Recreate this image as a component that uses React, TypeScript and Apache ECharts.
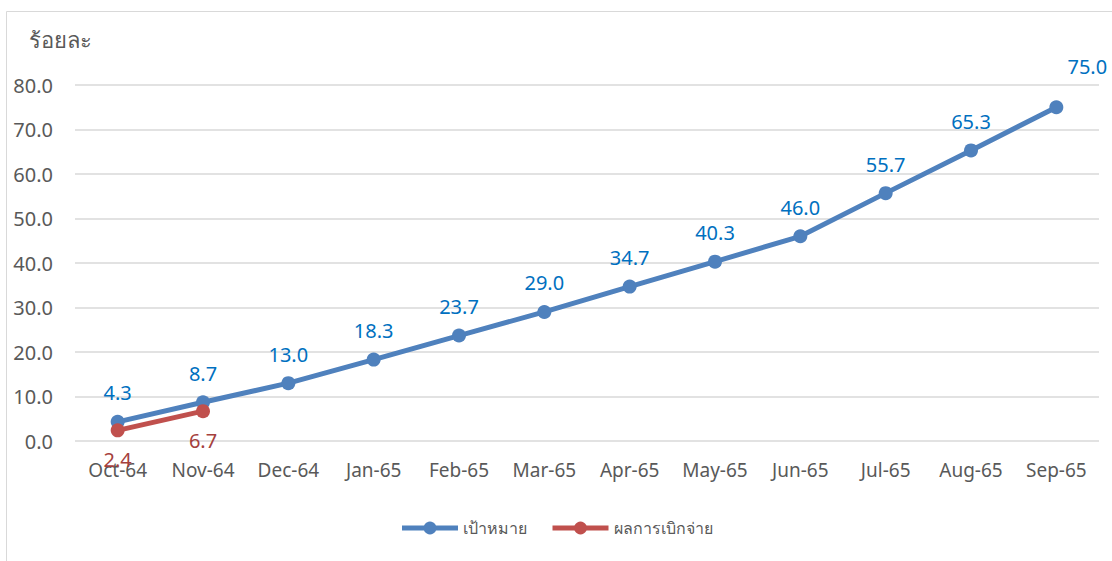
import React, { useEffect, useRef } from "react";
import * as echarts from "echarts";

const categories = ["Oct-64", "Nov-64", "Dec-64", "Jan-65", "Feb-65", "Mar-65", "Apr-65", "May-65", "Jun-65", "Jul-65", "Aug-65", "Sep-65"];
const targetValues = [4.3, 8.7, 13.0, 18.3, 23.7, 29.0, 34.7, 40.3, 46.0, 55.7, 65.3, 75.0];
const actualValues = [2.4, 6.7];
const yTicks = { min: 0, max: 80, interval: 10 };
const targetName = "เป้าหมาย";
const actualName = "ผลการเบิกจ่าย";
const yTitle = "ร้อยละ";

const FONT = "'Noto Sans', sans-serif";

export default function App() {
  const ref = useRef<HTMLDivElement>(null);
  useEffect(() => {
    if (!ref.current) return;
    const chart = echarts.init(ref.current, undefined, { renderer: "svg" });
    chart.setOption({
      animation: false,
      backgroundColor: "#ffffff",
      textStyle: { fontFamily: FONT },
      graphic: [
        {
          type: "rect",
          shape: { x: 6.5, y: 11.5, width: 1200, height: 700 },
          style: { fill: "none", stroke: "#d9d9d9", lineWidth: 1 },
          silent: true,
        },
        {
          type: "text",
          left: 29,
          top: 28,
          style: { text: yTitle, fontSize: 22, fill: "#595959", fontFamily: FONT },
        },
      ],
      grid: { left: 75, right: 13, top: 85, bottom: 120, containLabel: false },
      legend: {
        bottom: 20,
        left: "center",
        itemWidth: 56,
        itemHeight: 16,
        itemGap: 23,
        lineStyle: { width: 5 },
        textStyle: { color: "#595959", fontSize: 16, fontFamily: FONT },
        data: [targetName, actualName],
      },
      xAxis: {
        type: "category",
        data: categories,
        boundaryGap: true,
        axisLine: { show: false },
        axisTick: { show: false },
        axisLabel: { color: "#595959", fontSize: 19, margin: 19, interval: 0, fontFamily: FONT },
      },
      yAxis: {
        type: "value",
        min: yTicks.min,
        max: yTicks.max,
        interval: yTicks.interval,
        axisLine: { show: false },
        axisTick: { show: false },
        splitLine: { lineStyle: { color: "#d9d9d9", width: 1.5 } },
        axisLabel: {
          color: "#595959",
          fontSize: 20,
          margin: 22,
          fontFamily: FONT,
          formatter: (v: number) => v.toFixed(1),
        },
      },
      series: [
        {
          name: targetName,
          type: "line",
          data: targetValues.map((v, i) =>
            i === targetValues.length - 1
              ? { value: v, label: { offset: [31, -12] } }
              : v
          ),
          color: "#4f81bd",
          lineStyle: { width: 5, color: "#4f81bd" },
          symbol: "circle",
          symbolSize: 14,
          itemStyle: { color: "#4f81bd" },
          label: {
            show: true,
            position: "top",
            distance: 12,
            color: "#0070c0",
            fontSize: 20,
            fontFamily: FONT,
            formatter: (p: any) => Number(p.value).toFixed(1),
          },
          z: 2,
        },
        {
          name: actualName,
          type: "line",
          data: actualValues,
          color: "#c0504d",
          lineStyle: { width: 5, color: "#c0504d" },
          symbol: "circle",
          symbolSize: 14,
          itemStyle: { color: "#c0504d" },
          label: {
            show: true,
            position: "bottom",
            distance: 12,
            color: "#a5403d",
            fontSize: 20,
            fontFamily: FONT,
            formatter: (p: any) => Number(p.value).toFixed(1),
          },
          z: 3,
        },
      ],
    });
    return () => chart.dispose();
  }, []);
  return (
    <div
      ref={ref}
      style={{ position: "fixed", left: 0, top: 0, width: 1112, height: 561 }}
    />
  );
}
